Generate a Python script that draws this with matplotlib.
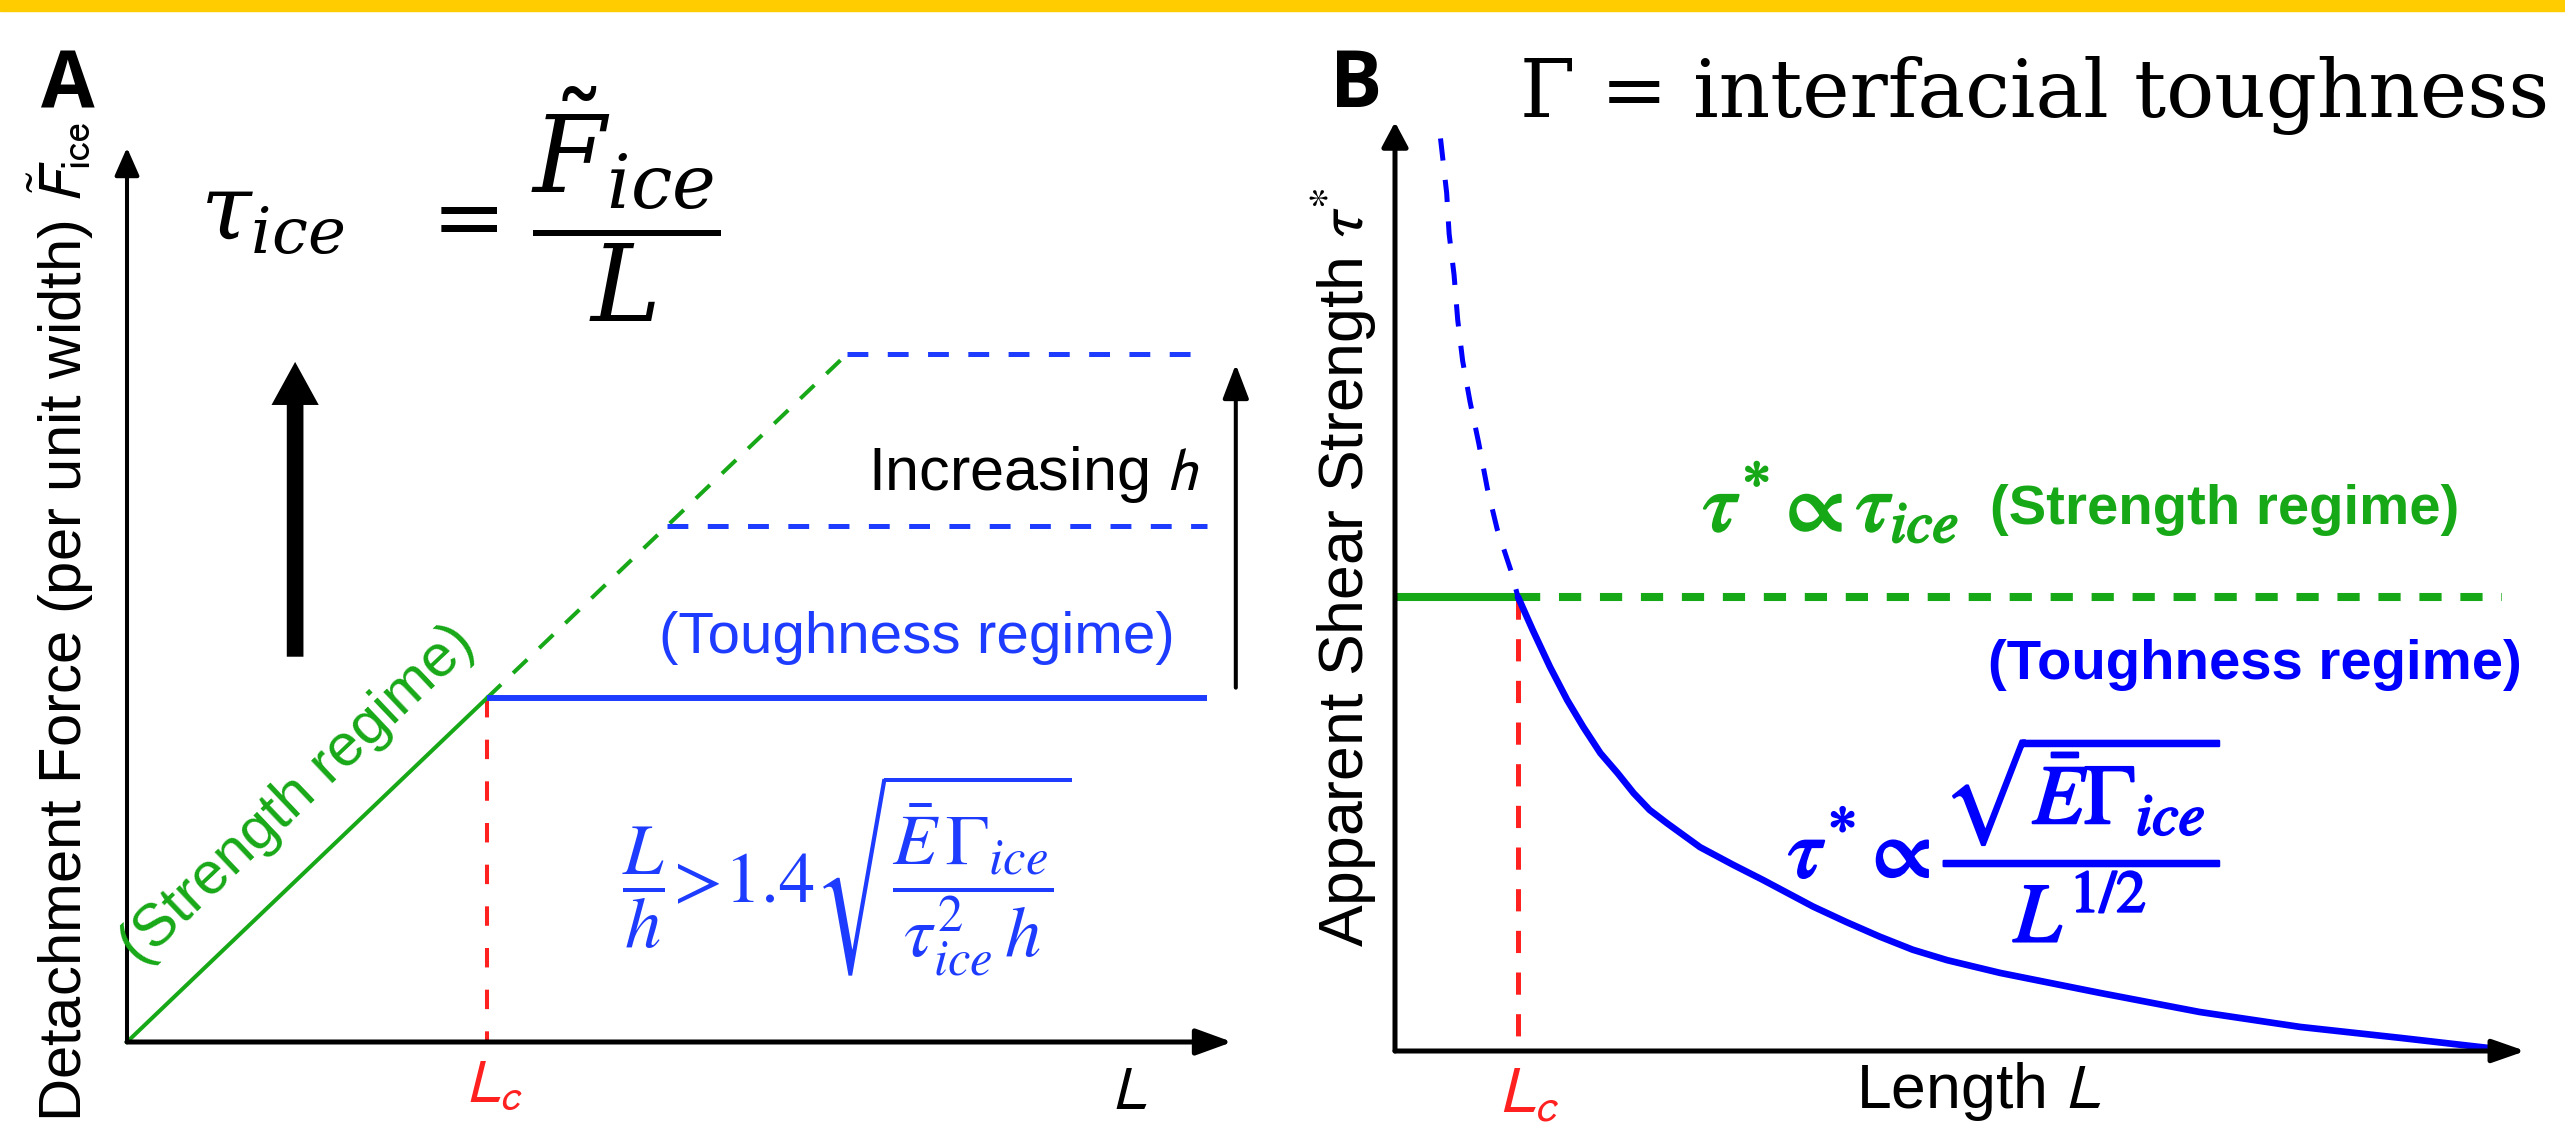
import matplotlib
matplotlib.use('Agg')
import matplotlib.pyplot as plt
from matplotlib import font_manager
import matplotlib.patheffects as pe
from matplotlib.patches import Rectangle, FancyArrowPatch

plt.rcParams['lines.scale_dashes'] = False
plt.rcParams['font.family'] = ['Liberation Sans', 'DejaVu Sans']

# ---------------- data ----------------
# Panel A  (L in units of Lc, F in units of F(Lc))
strength_L = [0.0, 1.0]
strength_F = [0.0, 1.0]
strength_ext_L = [1.0, 2.0]
strength_ext_F = [1.0, 2.0]
plateau_start = [1.0, 1.5, 2.0]
plateau_level = [1.0, 1.5, 2.0]
plateau_end = 3.0
Lc_A = 1.0

# Panel B  (L in units of Lc, tau* in units of tau_ice)
tau_ice = 1.0
Lc_B = 1.0
strength_line_end = 9.0
dash_L = [0.37, 0.42, 0.44, 0.48, 0.51, 0.55, 0.61, 0.68, 0.75, 0.83, 0.94, 1.00]
dash_tau = [2.01, 1.89, 1.80, 1.71, 1.61, 1.52, 1.43, 1.34, 1.24, 1.15, 1.06, 1.00]
tough_L = [1.00, 1.12, 1.26, 1.40, 1.53, 1.67, 1.81, 1.94, 2.07, 2.21, 2.48, 2.75,
           2.99, 3.40, 3.67, 3.94, 4.21, 4.49, 4.92, 5.73, 6.54, 7.36, 8.17, 8.88]
tough_tau = [1.00, 0.927, 0.846, 0.773, 0.714, 0.656, 0.612, 0.568, 0.531, 0.502,
             0.449, 0.410, 0.377, 0.318, 0.284, 0.252, 0.223, 0.200, 0.172, 0.128,
             0.086, 0.053, 0.029, 0.007]

# ---------------- style ----------------
W, H = 2565, 1126
GREEN = '#17a817'
BLUE_A = '#1e3cff'
BLUE_B = '#0000ff'
RED = '#ff2020'
YELLOW = '#ffcc00'


def has_font(name):
    try:
        font_manager.findfont(font_manager.FontProperties(family=name),
                              fallback_to_default=False)
        return True
    except Exception:
        return False


if has_font('Liberation Sans Narrow'):
    NARROW, NARROW_SIZE = 'Liberation Sans Narrow', 49
else:
    NARROW, NARROW_SIZE = 'Liberation Sans', 40.5


def arrow(ax, start, end, style, lw):
    ax.add_patch(FancyArrowPatch(start, end, arrowstyle=style, mutation_scale=1,
                                 lw=lw, color='k', shrinkA=0, shrinkB=0,
                                 clip_on=False, zorder=5))


fig = plt.figure(figsize=(W / 100, H / 100), dpi=100)
fig.patch.set_facecolor('white')

# yellow bar at top
fig.patches.append(Rectangle((0, 1 - 11 / H), 1, 11 / H, transform=fig.transFigure,
                             color=YELLOW, zorder=0))

# ---------------- panel A ----------------
xA0, yA0, uxA, uyA = 127, 1042, 360, 344
axA = fig.add_axes([xA0 / W, 1 - yA0 / H, 3.2 * uxA / W, 2.65 * uyA / H])
axA.set_xlim(0, 3.2)
axA.set_ylim(0, 2.65)
axA.axis('off')

axA.plot(strength_L, strength_F, color=GREEN, lw=2.9, clip_on=False, zorder=3)
axA.plot(strength_ext_L, strength_ext_F, color=GREEN, lw=2.9, dashes=(14, 12),
         clip_on=False, zorder=3)
for s, lvl in zip(plateau_start, plateau_level):
    if s == plateau_start[0]:
        axA.plot([s, plateau_end], [lvl, lvl], color=BLUE_A, lw=4.3,
                 solid_capstyle='butt', clip_on=False, zorder=3)
    else:
        axA.plot([s, plateau_end], [lvl, lvl], color=BLUE_A, lw=3.6,
                 dashes=(15, 14), clip_on=False, zorder=3)
axA.plot([Lc_A, Lc_A], [strength_F[-1], 0], color=RED, lw=2.9, dashes=(14, 16),
         clip_on=False, zorder=2)

arrow(axA, (0, 0), (0, 2.60), '-|>,head_length=17,head_width=7.5', 2.9)
arrow(axA, (0, 0), (3.07, 0), '-|>,head_length=22,head_width=8', 3.6)
arrow(axA, (3.08, 1.03), (3.08, 1.97), '-|>,head_length=21,head_width=8', 2.9)
arrow(axA, (0.467, 1.12), (0.467, 1.977),
      'simple,head_length=31,head_width=34,tail_width=12', 0)

# ---------------- panel B ----------------
xB0, yB0, uxB, uyB = 1395, 1051, 123, 454
axB = fig.add_axes([xB0 / W, 1 - yB0 / H, 9.3 * uxB / W, 2.1 * uyB / H])
axB.set_xlim(0, 9.3)
axB.set_ylim(0, 2.1)
axB.axis('off')

axB.plot([0, Lc_B], [tau_ice, tau_ice], color=GREEN, lw=5.8, solid_capstyle='butt',
         clip_on=False, zorder=3)
axB.plot([Lc_B, strength_line_end], [tau_ice, tau_ice], color=GREEN, lw=5.8,
         dashes=(16, 13.5), clip_on=False, zorder=3)
axB.plot([Lc_B, Lc_B], [tau_ice, 0], color=RED, lw=3.6, dashes=(16, 14),
         clip_on=False, zorder=2)
axB.plot(dash_L, dash_tau, color=BLUE_B, lw=3.6, dashes=(16, 14), clip_on=False, zorder=4)
axB.plot(tough_L, tough_tau, color=BLUE_B, lw=4.8, clip_on=False, zorder=4,
         solid_joinstyle='round', solid_capstyle='round')

arrow(axB, (0, 0), (0, 2.046), '-|>,head_length=15,head_width=8', 3.6)
arrow(axB, (0, 0), (9.19, 0), '-|>,head_length=20,head_width=7', 3.6)

# ---------------- text overlay (pixel coordinates) ----------------
axT = fig.add_axes([0, 0, 1, 1])
axT.set_xlim(0, W)
axT.set_ylim(H, 0)
axT.axis('off')
axT.patch.set_alpha(0)
axT.set_zorder(10)

bold_panel = dict(family=['Open Sans', 'DejaVu Sans'], weight='bold', fontsize=56,
                  ha='left', va='baseline')
axT.text(41, 108, 'A', **bold_panel)
axT.text(1330, 107, 'B', **bold_panel)

axT.text(1520, 117, 'Γ = interfacial toughness', family='DejaVu Serif', fontsize=57.5,
         ha='left', va='baseline')

# tau_ice = F_ice / L
axT.text(200, 240, r'$\tau_{ice}$', math_fontfamily='dejavuserif', fontsize=66,
         ha='left', va='baseline')
axT.text(457, 246, r'$=$', math_fontfamily='dejavuserif', fontsize=64,
         ha='center', va='baseline')
axT.text(626, 258, r'$\dfrac{\tilde{F}_{ice}}{L}$', math_fontfamily='dejavuserif',
         fontsize=76, ha='center', va='baseline')

axT.text(82, 1122, r'Detachment Force (per unit width) $\tilde{F}_{\mathrm{ice}}$',
         math_fontfamily='stixsans', fontsize=43, rotation=90, rotation_mode='anchor',
         ha='left', va='baseline')

axT.text(308, 806, '(Strength regime)', color=GREEN, fontsize=43, rotation=43.5,
         rotation_mode='anchor', ha='center', va='baseline')
axT.text(917, 653, '(Toughness regime)', color=BLUE_A, fontsize=42, ha='center', va='baseline')
axT.text(1200, 490, r'Increasing $h$', math_fontfamily='stixsans', fontsize=44,
         ha='right', va='baseline')
axT.text(622, 903,
         r'$\dfrac{L}{h}\!>\!1.4\sqrt{\dfrac{\bar{E}\,\Gamma_{ice}}{\tau_{ice}^{2}\,h}}$',
         math_fontfamily='stix', fontsize=52, color=BLUE_A, ha='left', va='baseline')
axT.text(465, 1102, r'$L_c$', math_fontfamily='stixsans', fontsize=44, color=RED,
         ha='left', va='baseline')
axT.text(1111, 1109, r'$L$', math_fontfamily='stixsans', fontsize=44,
         ha='left', va='baseline')

axT.text(1364, 947, r'Apparent Shear Strength $\tau^{*}$', math_fontfamily='stixsans',
         fontsize=45, rotation=90, rotation_mode='anchor', ha='left', va='baseline')

bold_fx = lambda c: [pe.withStroke(linewidth=1.6, foreground=c)]
axT.text(1703, 531, r'$\tau^{*}\propto\tau_{ice}$', math_fontfamily='stix', fontsize=60,
         color=GREEN, ha='left', va='baseline', path_effects=bold_fx(GREEN))
axT.text(1990, 524, '(Strength regime)', family=[NARROW, 'Liberation Sans'], weight='bold',
         fontsize=NARROW_SIZE, color=GREEN, ha='left', va='baseline')
axT.text(2522, 679, '(Toughness regime)', family=[NARROW, 'Liberation Sans'], weight='bold',
         fontsize=NARROW_SIZE, color=BLUE_B, ha='right', va='baseline')
axT.text(1788, 877, r'$\tau^{*}\propto\dfrac{\sqrt{\bar{E}\Gamma_{ice}}}{L^{1/2}}$',
         math_fontfamily='stix', fontsize=61, color=BLUE_B, ha='left', va='baseline',
         path_effects=bold_fx(BLUE_B))
axT.text(1498, 1112, r'$L_c$', math_fontfamily='stixsans', fontsize=47, color=RED,
         ha='left', va='baseline')
axT.text(1856, 1108, r'Length $L$', math_fontfamily='stixsans', fontsize=45,
         ha='left', va='baseline')

fig.savefig('out.png', dpi=100, facecolor='white')
